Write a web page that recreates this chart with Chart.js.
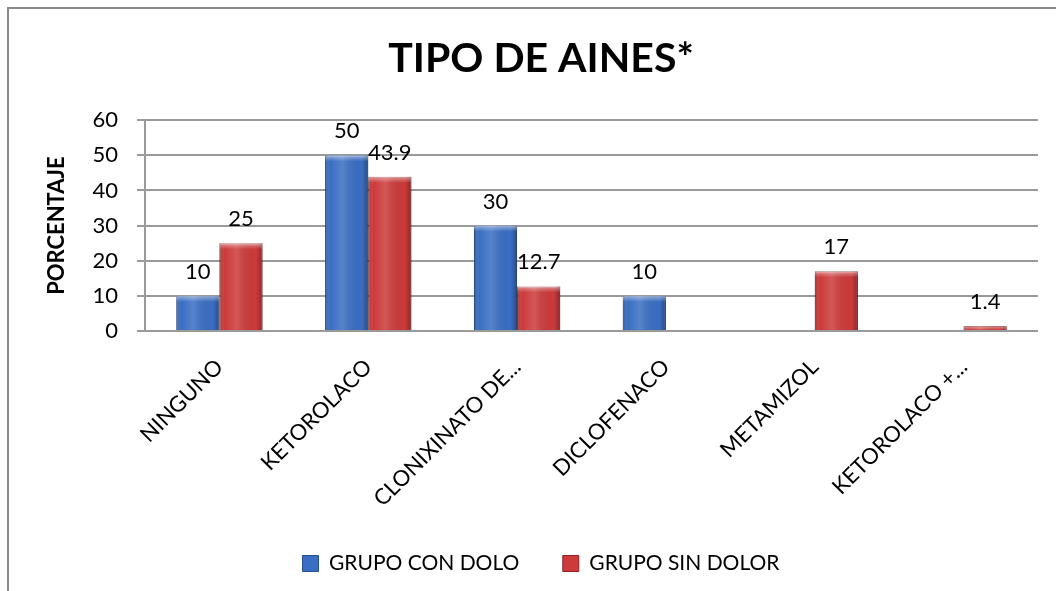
<!DOCTYPE html>
<html>
<head>
<meta charset="utf-8">
<script src="https://cdn.jsdelivr.net/npm/chart.js@4.4.1/dist/chart.umd.min.js"></script>
<style>
html,body{margin:0;padding:0;background:#fff;}
#wrap{position:absolute;left:0;top:0;width:1056px;height:591px;}
</style>
</head>
<body>
<div id="wrap"><canvas id="c" width="1056" height="591"></canvas></div>
<script>
const categories = ["NINGUNO", "KETOROLACO", "CLONIXINATO DE...", "DICLOFENACO", "METAMIZOL", "KETOROLACO +..."];
const grupoConDolor = [10, 50, 30, 10, null, null];
const grupoSinDolor = [25, 43.9, 12.7, null, 17, 1.4];
const seriesNames = ["GRUPO CON DOLO", "GRUPO SIN DOLOR"];
const yTicks = [0, 10, 20, 30, 40, 50, 60];

const FONT = "Lato, 'DejaVu Sans', sans-serif";

const framePlugin = {
  id: 'frame',
  beforeDraw(chart) {
    const ctx = chart.ctx;
    ctx.save();
    ctx.fillStyle = '#fff';
    ctx.fillRect(0, 0, chart.width, chart.height);
    ctx.strokeStyle = '#8a8a8a';
    ctx.lineWidth = 2;
    ctx.beginPath();
    ctx.moveTo(8, chart.height);
    ctx.lineTo(8, 8);
    ctx.lineTo(chart.width, 8);
    ctx.stroke();
    ctx.restore();
  }
};

const shadePlugin = {
  id: 'shade',
  afterDatasetsDraw(chart) {
    const ctx = chart.ctx;
    ctx.save();
    chart.data.datasets.forEach((ds, i) => {
      const meta = chart.getDatasetMeta(i);
      meta.data.forEach((el, j) => {
        if (ds.data[j] == null) return;
        const w = el.width, x0 = el.x - w / 2, top = el.y, bot = el.base;
        const g = ctx.createLinearGradient(x0, 0, x0 + w, 0);
        g.addColorStop(0, 'rgba(0,0,0,0.25)');
        g.addColorStop(0.12, 'rgba(255,255,255,0.0)');
        g.addColorStop(0.4, 'rgba(255,255,255,0.15)');
        g.addColorStop(0.85, 'rgba(0,0,0,0.0)');
        g.addColorStop(1, 'rgba(0,0,0,0.3)');
        ctx.fillStyle = g;
        ctx.fillRect(x0, top, w, bot - top);
        const h = Math.min(6, bot - top);
        const g2 = ctx.createLinearGradient(0, top, 0, top + h);
        g2.addColorStop(0, 'rgba(255,255,255,0.45)');
        g2.addColorStop(1, 'rgba(255,255,255,0)');
        ctx.fillStyle = g2;
        ctx.fillRect(x0, top, w, h);
      });
    });
    ctx.restore();
  }
};

const labelPlugin = {
  id: 'valueLabels',
  afterDatasetsDraw(chart) {
    const ctx = chart.ctx;
    ctx.save();
    ctx.font = "22px " + FONT;
    ctx.fillStyle = '#000';
    ctx.textAlign = 'center';
    ctx.textBaseline = 'middle';
    chart.data.datasets.forEach((ds, i) => {
      const meta = chart.getDatasetMeta(i);
      meta.data.forEach((el, j) => {
        const v = ds.data[j];
        if (v == null) return;
        ctx.fillText(String(v), el.x, el.y - 24);
      });
    });
    ctx.restore();
  }
};

new Chart(document.getElementById('c'), {
  type: 'bar',
  data: {
    labels: categories,
    datasets: [
      { label: seriesNames[0], data: grupoConDolor, backgroundColor: '#3a6ec2', borderColor: '#23508f', borderWidth: 1 },
      { label: seriesNames[1], data: grupoSinDolor, backgroundColor: '#cc3a3a', borderColor: '#8e2222', borderWidth: 1 }
    ]
  },
  options: {
    responsive: false,
    animation: false,
    devicePixelRatio: 1,
    layout: { padding: { left: 44, right: 18, top: 0, bottom: 7 } },
    datasets: { bar: { categoryPercentage: 0.58, barPercentage: 1.0 } },
    plugins: {
      title: {
        display: true,
        text: 'TIPO DE AINES*',
        color: '#000',
        font: { family: FONT, size: 41, weight: 'bold', lineHeight: 1.2 },
        padding: { top: 34, bottom: 37 }
      },
      legend: {
        position: 'bottom',
        labels: {
          color: '#000',
          font: { family: FONT, size: 21 },
          boxWidth: 16,
          boxHeight: 16,
          padding: 12,
          generateLabels(chart) {
            const items = Chart.defaults.plugins.legend.labels.generateLabels(chart);
            items.forEach((it, i) => { if (i === 0) it.text = it.text + '\u2002\u2002\u2002'; });
            return items;
          }
        }
      },
      tooltip: { enabled: false }
    },
    scales: {
      x: {
        grid: { display: false },
        border: { display: false },
        afterFit(scale) { scale.height = 210; },
        ticks: {
          color: '#000',
          font: { family: FONT, size: 22 },
          maxRotation: 45,
          minRotation: 45,
          autoSkip: false,
          padding: 15
        }
      },
      y: {
        min: 0,
        max: 60,
        afterBuildTicks(scale) { scale.ticks = yTicks.map(v => ({ value: v })); },
        afterFit(scale) { scale.width = 101; },
        grid: { color: '#9a9a9a', lineWidth: 2, tickLength: 8 },
        border: { color: '#9a9a9a', width: 2 },
        ticks: { color: '#000', font: { family: FONT, size: 22 }, padding: 19 },
        title: {
          display: true,
          text: 'PORCENTAJE',
          color: '#000',
          font: { family: FONT, size: 22, weight: 'bold' },
          padding: { top: 0, bottom: 0 }
        }
      }
    }
  },
  plugins: [framePlugin, shadePlugin, labelPlugin]
});
</script>
</body>
</html>
